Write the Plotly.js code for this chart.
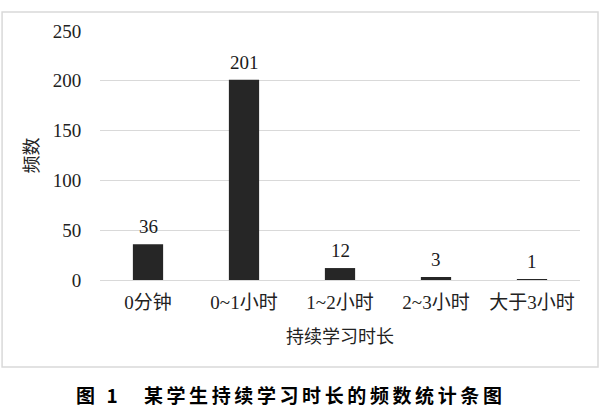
<!DOCTYPE html>
<html>
<head>
<meta charset="utf-8">
<script src="https://cdn.plot.ly/plotly-3.0.1.min.js"></script>
<style>
html,body{margin:0;padding:0;background:#fff;}
#chart{width:600px;height:411px;}
.caption-ann text{letter-spacing:3.6px;}
</style>
</head>
<body>
<div id="chart"></div>
<script>
const categories = ["0分钟", "0~1小时", "1~2小时", "2~3小时", "大于3小时"];
const counts = [36, 201, 12, 3, 1];
const yTicks = [0, 50, 100, 150, 200, 250];
const xTitle = "持续学习时长";
const yTitle = "频数";
const caption = "图 1\u3000某学生持续学习时长的频数统计条图";

const serif = "'Liberation Serif', 'Times New Roman', 'Noto Sans CJK SC', serif";
const cjk = "'Noto Sans CJK SC', sans-serif";

const trace = {
  type: "bar",
  x: categories,
  y: counts,
  marker: {color: "#262626"},
  hoverinfo: "none"
};

const labelAnnotations = categories.map((c, i) => ({
  x: c, y: counts[i], xref: "x", yref: "y",
  text: String(counts[i]),
  showarrow: false,
  xanchor: "center", yanchor: "bottom",
  yshift: 5,
  font: {family: serif, size: 19, color: "#1a1a1a"}
}));

const layout = {
  width: 600,
  height: 411,
  margin: {l: 100, r: 20, t: 31, b: 131},
  paper_bgcolor: "#fff",
  plot_bgcolor: "#fff",
  bargap: 0.685,
  showlegend: false,
  xaxis: {
    type: "category",
    tickfont: {family: serif, size: 19, color: "#222"},
    ticks: "outside",
    ticklen: 5,
    tickcolor: "rgba(0,0,0,0)",
    showline: true,
    linecolor: "#d9d9d9",
    linewidth: 1,
    showgrid: false,
    fixedrange: true,
    title: {text: xTitle, font: {family: cjk, size: 18, color: "#222"}, standoff: 18}
  },
  yaxis: {
    range: [0, 250],
    tickvals: yTicks,
    tickfont: {family: serif, size: 19, color: "#222"},
    ticks: "outside",
    ticklen: 14,
    tickcolor: "rgba(0,0,0,0)",
    showgrid: true,
    gridcolor: "#d9d9d9",
    gridwidth: 1,
    zeroline: false,
    showline: false,
    fixedrange: true,
    title: {text: yTitle, font: {family: cjk, size: 18, color: "#222"}, standoff: 9}
  },
  shapes: [{
    type: "rect", xref: "paper", yref: "paper",
    x0: -0.204, x1: 1.0375, y0: -0.349, y1: 1.0763,
    line: {color: "#d9d9d9", width: 1.5},
    fillcolor: "rgba(0,0,0,0)",
    layer: "below"
  }],
  annotations: labelAnnotations.concat([{
    xref: "paper", yref: "paper",
    x: 0.398, y: -0.458,
    xanchor: "center", yanchor: "middle",
    showarrow: false,
    text: "<b>" + caption + "</b>",
    font: {family: cjk, size: 19, color: "#000"}
  }])
};

Plotly.newPlot("chart", [trace], layout, {displayModeBar: false, staticPlot: true}).then(() => {
  const anns = document.querySelectorAll(".annotation");
  const cap = anns[anns.length - 1];
  if (cap) cap.classList.add("caption-ann");
});
</script>
</body>
</html>
